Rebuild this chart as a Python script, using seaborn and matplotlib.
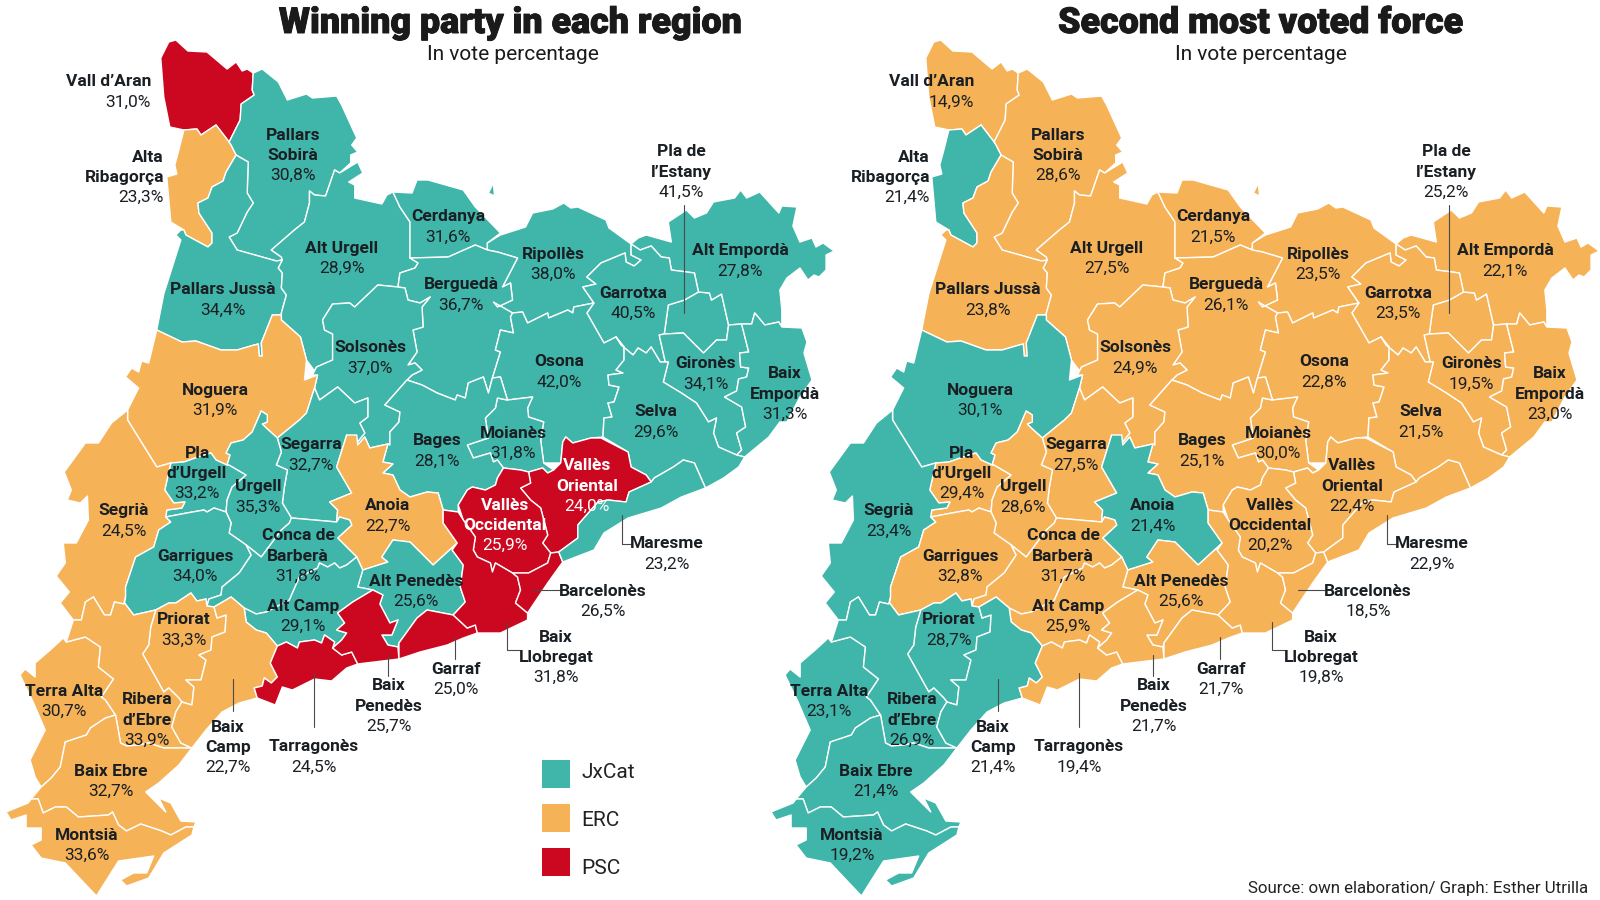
import numpy as np
import pandas as pd
import seaborn as sns
import matplotlib.pyplot as plt
import matplotlib.patheffects as pe

# Election results per comarca
regions = ["Vall d'Aran", "Alta Ribagorça", "Pallars Sobirà", "Pallars Jussà", "Alt Urgell", "Cerdanya",
           "Ripollès", "Berguedà", "Solsonès", "Pla de l'Estany", "Alt Empordà", "Garrotxa", "Gironès",
           "Baix Empordà", "Osona", "Selva", "Moianès", "Bages", "Noguera", "Pla d'Urgell", "Segarra",
           "Urgell", "Segrià", "Anoia", "Vallès Oriental", "Vallès Occidental", "Garrigues",
           "Conca de Barberà", "Alt Penedès", "Alt Camp", "Priorat", "Terra Alta", "Ribera d'Ebre",
           "Baix Ebre", "Montsià", "Baix Camp", "Tarragonès", "Baix Penedès", "Garraf", "Baix Llobregat",
           "Barcelonès", "Maresme"]
winner_party = ["PSC", "ERC", "JxCat", "JxCat", "JxCat", "JxCat",
                "JxCat", "JxCat", "JxCat", "JxCat", "JxCat", "JxCat", "JxCat",
                "JxCat", "JxCat", "JxCat", "JxCat", "JxCat", "ERC", "JxCat", "JxCat",
                "JxCat", "ERC", "ERC", "PSC", "PSC", "JxCat",
                "JxCat", "JxCat", "JxCat", "ERC", "ERC", "ERC",
                "ERC", "ERC", "ERC", "PSC", "PSC", "PSC", "PSC",
                "PSC", "JxCat"]
winner_pct = [31.0, 23.3, 30.8, 34.4, 28.9, 31.6,
              38.0, 36.7, 37.0, 41.5, 27.8, 40.5, 34.1,
              31.3, 42.0, 29.6, 31.8, 28.1, 31.9, 33.2, 32.7,
              35.3, 24.5, 22.7, 24.0, 25.9, 34.0,
              31.8, 25.6, 29.1, 33.3, 30.7, 33.9,
              32.7, 33.6, 22.7, 24.5, 25.7, 25.0, 31.8,
              26.5, 23.2]
second_party = ["ERC", "JxCat", "ERC", "ERC", "ERC", "ERC",
                "ERC", "ERC", "ERC", "ERC", "ERC", "ERC", "ERC",
                "ERC", "ERC", "ERC", "ERC", "ERC", "JxCat", "ERC", "ERC",
                "ERC", "JxCat", "JxCat", "ERC", "ERC", "ERC",
                "ERC", "ERC", "ERC", "JxCat", "JxCat", "JxCat",
                "JxCat", "JxCat", "JxCat", "ERC", "ERC", "ERC", "ERC",
                "ERC", "ERC"]
second_pct = [14.9, 21.4, 28.6, 23.8, 27.5, 21.5,
              23.5, 26.1, 24.9, 25.2, 22.1, 23.5, 19.5,
              23.0, 22.8, 21.5, 30.0, 25.1, 30.1, 29.4, 27.5,
              28.6, 23.4, 21.4, 22.4, 20.2, 32.8,
              31.7, 25.6, 25.9, 28.7, 23.1, 26.9,
              21.4, 19.2, 21.4, 19.4, 21.7, 21.7, 19.8,
              18.5, 22.9]
parties = ["JxCat", "ERC", "PSC"]
party_colors = {"JxCat": "#40b5a9", "ERC": "#f6b257", "PSC": "#cc0820"}

shapes = {
    "Vall d'Aran": [[(162,58),(170,42),(177,40),(189,51),(208,52),(228,69),(237,62),(243,71),(248,69),(254,73),(253,90),(255,95),(242,104),(241,120),(230,142),(217,125),(202,135),(198,129),(185,130),(171,127),(165,97)]],
    "Alta Ribagorça": [[(185,130),(198,129),(202,135),(217,125),(230,142),(232,145),(237,155),(227,172),(224,181),(213,187),(209,198),(199,203),(200,213),(213,233),(213,243),(209,247),(187,235),(185,230),(172,222),(168,177),(178,174),(176,165),(180,150)]],
    "Pallars Sobirà": [[(263,69),(279,82),(288,100),(307,94),(313,98),(337,96),(342,105),(357,138),(352,145),(358,152),(351,155),(351,163),(340,173),(335,170),(326,196),(315,195),(310,191),(310,203),(305,222),(295,230),(272,250),(282,257),(283,260),(277,261),(238,250),(230,237),(238,233),(248,212),(254,203),(248,193),(249,162),(242,158),(237,155),(232,145),(230,142),(241,120),(242,104),(255,95),(253,90),(254,73)]],
    "Pallars Jussà": [[(237,155),(242,158),(249,162),(248,193),(254,203),(248,212),(238,233),(230,237),(238,250),(277,261),(283,260),(279,268),(283,273),(282,288),(287,295),(282,313),(282,315),(273,315),(262,343),(263,356),(260,356),(259,344),(255,345),(238,350),(222,350),(197,341),(183,342),(158,330),(165,294),(182,240),(177,235),(182,230),(185,230),(187,235),(209,247),(213,243),(213,233),(200,213),(199,203),(209,198),(213,187),(224,181),(227,172)]],
    "Alt Urgell": [[(310,191),(315,195),(326,196),(335,170),(340,173),(358,162),(363,173),(349,182),(355,185),(355,198),(382,204),(387,195),(393,192),(400,207),(410,222),(410,258),(418,263),(415,268),(400,273),(398,287),(378,285),(355,307),(350,303),(333,304),(323,320),(325,330),(333,334),(333,360),(317,367),(313,375),(318,375),(307,360),(301,337),(282,320),(282,315),(282,313),(287,295),(282,288),(283,273),(279,268),(283,260),(282,257),(272,250),(295,230),(305,222),(310,203)]],
    "Cerdanya": [[(410,258),(410,222),(400,207),(393,192),(412,193),(417,180),(428,180),(463,190),(475,207),(500,233),(487,243),(487,250),(475,245),(448,257)],
                 [(493,183),(488,193),(500,199),(494,195)]],
    "Ripollès": [[(487,243),(500,235),(525,227),(532,213),(552,209),(563,203),(570,208),(577,207),(605,220),(608,228),(630,244),(630,255),(640,260),(633,266),(625,262),(624,253),(600,263),(586,277),(595,284),(582,287),(593,303),(573,307),(572,313),(567,310),(548,318),(547,313),(527,323),(522,312),(512,313),(493,302),(497,307),(512,300),(510,283),(502,287),(517,258),(497,252),(487,250)]],
    "Berguedà": [[(400,273),(415,268),(418,263),(410,258),(448,257),(475,245),(487,250),(497,252),(517,258),(502,287),(510,283),(512,300),(497,307),(493,302),(512,313),(510,317),(513,333),(500,330),(495,350),(500,352),(492,378),(488,393),(483,377),(468,383),(465,398),(457,395),(455,400),(437,393),(422,385),(407,380),(412,375),(422,370),(415,363),(408,365),(417,352),(413,330),(423,327),(422,307),(430,297),(420,303),(408,300),(405,288),(398,287)]],
    "Solsonès": [[(323,320),(333,304),(350,303),(355,307),(378,285),(398,287),(405,288),(408,300),(420,303),(430,297),(422,307),(423,327),(413,330),(417,352),(408,365),(415,363),(422,370),(412,375),(407,380),(385,405),(400,412),(399,422),(390,432),(390,445),(388,444),(370,448),(365,437),(358,445),(357,443),(365,433),(360,423),(368,417),(368,398),(355,403),(338,387),(320,400),(315,388),(318,375),(313,375),(317,367),(333,360),(333,334),(325,330)]],
    "Pla de l'Estany": [[(697,292),(708,293),(710,300),(720,294),(727,325),(725,340),(715,340),(702,353),(682,333),(663,334),(667,305),(683,300)]],
    "Alt Empordà": [[(637,238),(645,235),(670,242),(667,222),(685,210),(693,218),(705,213),(712,202),(733,198),(739,190),(745,198),(758,192),(777,213),(780,206),(795,207),(791,226),(798,242),(810,238),(814,247),(821,243),(832,251),(824,255),(824,270),(817,277),(812,275),(806,280),(798,268),(785,278),(778,290),(780,310),(780,327),(777,322),(763,325),(753,313),(750,324),(740,324),(727,325),(720,294),(710,300),(708,293),(697,292),(693,273),(670,270),(668,258),(660,257),(650,246),(639,250),(630,244)]],
    "Garrotxa": [[(630,244),(639,250),(650,246),(660,257),(668,258),(670,270),(693,273),(697,292),(683,300),(667,305),(663,334),(658,335),(664,362),(659,362),(650,347),(645,353),(637,348),(632,355),(620,345),(615,337),(603,343),(586,313),(593,303),(582,287),(595,284),(586,277),(600,263),(624,253),(625,262),(633,266),(640,260),(630,255)]],
    "Gironès": [[(658,335),(663,334),(682,333),(702,353),(715,340),(725,340),(727,325),(740,324),(747,352),(738,353),(739,367),(747,368),(745,377),(737,379),(735,391),(723,397),(740,407),(744,427),(735,433),(740,450),(735,455),(717,447),(712,433),(715,418),(707,422),(695,403),(680,393),(662,382),(667,362),(664,362)]],
    "Baix Empordà": [[(740,324),(750,324),(753,313),(763,325),(777,322),(780,327),(800,328),(805,342),(802,353),(810,380),(798,397),(785,422),(778,422),(767,437),(743,457),(735,455),(740,450),(735,433),(744,427),(740,407),(723,397),(735,391),(737,379),(745,377),(747,368),(739,367),(738,353),(747,352)]],
    "Osona": [[(512,313),(522,312),(527,323),(547,313),(548,318),(567,310),(572,313),(573,307),(593,303),(586,313),(603,343),(615,337),(623,347),(623,360),(615,370),(622,373),(607,375),(608,385),(618,387),(613,402),(607,403),(611,417),(603,418),(602,437),(590,438),(572,443),(565,437),(562,442),(560,463),(543,463),(540,440),(543,422),(528,417),(527,408),(532,397),(507,400),(500,377),(492,378),(500,352),(495,350),(500,330),(513,333),(510,317)]],
    "Selva": [[(602,437),(603,418),(611,417),(607,403),(613,402),(618,387),(608,385),(607,375),(622,373),(615,370),(623,360),(623,347),(615,337),(620,345),(632,355),(637,348),(645,353),(650,347),(659,362),(664,362),(667,362),(662,382),(680,393),(695,403),(707,422),(715,418),(712,433),(717,447),(735,455),(743,457),(737,467),(722,478),(704,488),(693,463),(682,460),(672,467),(653,478),(650,482),(645,475),(630,467),(627,452)]],
    "Moianès": [[(467,445),(488,438),(485,418),(495,408),(497,398),(507,400),(532,397),(527,408),(528,417),(543,422),(540,440),(543,463),(553,470),(547,473),(542,468),(528,472),(520,470),(503,468),(497,460),(493,462),(490,453),(473,458)]],
    "Bages": [[(407,380),(422,385),(437,393),(455,400),(457,395),(465,398),(468,383),(483,377),(488,393),(492,378),(500,377),(507,400),(497,398),(495,408),(485,418),(488,438),(467,445),(473,458),(490,453),(493,462),(497,460),(503,468),(497,478),(495,485),(485,490),(472,487),(467,490),(458,505),(458,512),(443,510),(438,493),(427,492),(410,497),(400,490),(393,475),(383,473),(393,464),(383,462),(388,444),(390,445),(390,432),(399,422),(400,412),(385,405)]],
    "Noguera": [[(158,330),(183,342),(197,341),(222,350),(238,350),(255,345),(259,344),(260,356),(263,356),(262,343),(273,315),(282,315),(282,320),(301,337),(307,360),(305,380),(318,375),(315,388),(307,413),(300,420),(278,438),(267,428),(263,424),(268,422),(268,415),(262,411),(253,432),(244,440),(232,443),(227,453),(231,455),(228,465),(217,460),(212,453),(205,455),(185,462),(172,463),(158,467),(129,420),(129,410),(140,388),(127,377),(133,368),(140,372),(143,361),(150,363)]],
    "Pla d'Urgell": [[(172,463),(185,462),(205,455),(212,453),(217,460),(228,465),(230,465),(247,475),(233,487),(228,500),(227,512),(215,508),(208,512),(205,510),(188,513),(167,517),(168,510),(183,508),(186,502),(175,503),(166,490)]],
    "Segarra": [[(315,388),(320,400),(338,387),(355,403),(368,398),(368,417),(360,423),(365,433),(357,443),(347,435),(337,467),(352,493),(330,502),(338,510),(337,522),(292,518),(283,503),(285,487),(288,470),(277,465),(282,452),(278,438),(300,420),(307,413)]],
    "Urgell": [[(253,432),(262,411),(268,415),(268,422),(263,424),(267,428),(278,438),(282,452),(277,465),(288,470),(285,487),(283,503),(292,518),(290,523),(282,530),(262,557),(247,545),(230,533),(232,523),(227,512),(228,500),(233,487),(247,475),(230,465),(228,465),(231,455),(227,453),(232,443),(244,440)]],
    "Segrià": [[(129,410),(113,423),(100,443),(87,443),(66,472),(73,490),(69,500),(82,503),(89,496),(90,520),(78,543),(65,543),(67,563),(58,576),(71,592),(62,603),(75,620),(83,620),(87,602),(95,597),(106,615),(112,615),(116,602),(125,604),(127,597),(127,587),(137,557),(155,547),(160,530),(172,522),(167,517),(168,510),(183,508),(186,502),(175,503),(166,490),(172,463),(158,467),(129,420)]],
    "Anoia": [[(347,435),(357,435),(358,445),(365,437),(370,448),(388,444),(383,462),(393,464),(383,473),(393,475),(400,490),(410,497),(427,492),(438,493),(443,510),(443,523),(457,543),(433,565),(410,542),(393,540),(382,557),(388,562),(363,570),(357,557),(338,538),(352,525),(350,520),(340,517),(337,522),(338,510),(330,502),(352,493),(337,467)]],
    "Vallès Oriental": [[(560,463),(562,442),(565,437),(572,443),(590,438),(600,438),(627,452),(630,467),(645,475),(650,482),(628,492),(625,502),(607,500),(597,502),(577,525),(577,538),(558,552),(550,553),(542,543),(547,535),(540,508),(530,500),(520,488),(530,483),(528,472),(542,468),(547,473),(553,470)]],
    "Vallès Occidental": [[(503,468),(520,470),(528,472),(530,483),(520,488),(530,500),(540,508),(547,535),(542,543),(550,553),(547,563),(528,573),(512,573),(495,563),(492,572),(490,563),(477,557),(473,550),(475,537),(463,520),(458,505),(467,490),(472,487),(485,490),(495,485),(497,478)]],
    "Garrigues": [[(167,517),(188,513),(205,510),(208,512),(215,508),(227,512),(232,523),(230,533),(247,545),(252,555),(240,573),(223,587),(222,595),(210,599),(208,606),(207,599),(198,601),(192,593),(177,603),(170,603),(157,610),(135,615),(126,603),(127,597),(127,587),(137,557),(155,547),(160,530),(172,522)]],
    "Conca de Barberà": [[(262,557),(282,530),(290,523),(292,518),(337,522),(340,517),(350,520),(352,525),(338,538),(357,557),(347,565),(340,568),(335,563),(328,567),(320,563),(318,568),(300,577),(290,600),(267,612),(257,614),(245,608),(232,597),(215,607),(208,606),(210,599),(222,595),(223,587),(240,573),(252,555),(247,545)]],
    "Alt Penedès": [[(363,570),(388,562),(382,557),(393,540),(410,542),(433,565),(457,543),(452,550),(463,565),(460,587),(465,602),(453,615),(427,610),(417,618),(399,643),(398,647),(388,645),(382,635),(392,635),(398,620),(390,623),(380,604),(383,595),(373,590),(358,587)]],
    "Alt Camp": [[(245,608),(257,614),(267,612),(290,600),(300,577),(318,568),(320,563),(328,567),(335,563),(340,568),(347,565),(357,557),(363,570),(358,587),(373,590),(353,602),(338,613),(345,623),(337,630),(347,633),(342,640),(333,648),(335,642),(325,635),(322,643),(315,640),(300,642),(298,648),(287,642),(278,646),(267,633),(257,630),(247,622)]],
    "Priorat": [[(157,610),(170,603),(177,603),(192,593),(198,601),(207,599),(208,606),(215,607),(218,618),(227,615),(226,632),(213,637),(212,650),(200,655),(207,660),(202,680),(187,680),(195,687),(193,705),(183,702),(180,698),(170,688),(165,692),(144,654),(150,645),(152,627)]],
    "Terra Alta": [[(68,642),(87,637),(102,647),(100,667),(115,679),(103,697),(107,700),(117,715),(107,718),(92,728),(88,735),(67,742),(62,767),(53,778),(43,787),(37,777),(32,760),(47,730),(35,702),(22,675),(27,669),(37,677),(37,663),(52,650),(65,638)]],
    "Ribera d'Ebre": [[(75,620),(83,620),(87,602),(95,597),(106,615),(112,615),(116,602),(125,604),(126,603),(135,615),(157,610),(152,627),(150,645),(144,654),(165,692),(170,688),(180,698),(183,702),(177,712),(173,727),(182,743),(193,748),(165,748),(150,743),(140,745),(128,746),(122,743),(117,715),(107,700),(103,697),(115,679),(100,667),(102,647),(87,637),(68,642)]],
    "Baix Ebre": [[(117,715),(122,743),(128,746),(140,745),(150,743),(165,748),(193,748),(180,765),(160,783),(147,792),(167,812),(160,798),(172,803),(182,821),(197,822),(195,827),(187,827),(172,835),(163,831),(142,824),(128,831),(120,825),(114,812),(110,815),(80,817),(68,807),(57,807),(45,813),(40,799),(33,799),(43,787),(53,778),(62,767),(67,742),(88,735),(92,728),(107,718)]],
    "Montsià": [[(8,812),(30,803),(33,799),(40,799),(45,813),(57,807),(68,807),(80,817),(110,815),(114,812),(120,825),(128,831),(142,824),(163,831),(172,835),(187,827),(195,827),(193,835),(165,853),(150,878),(128,886),(122,880),(135,873),(148,873),(155,856),(120,861),(98,896),(67,863),(43,858),(33,845),(43,840),(43,828),(28,828),(28,815),(13,820)]],
    "Baix Camp": [[(215,607),(232,597),(245,608),(247,622),(257,630),(267,633),(278,646),(271,663),(278,677),(272,683),(265,678),(263,686),(255,688),(258,698),(240,703),(223,712),(207,730),(193,748),(182,743),(173,727),(177,712),(183,702),(193,705),(195,687),(187,680),(202,680),(207,660),(200,655),(212,650),(213,637),(226,632),(227,615),(218,618)]],
    "Tarragonès": [[(278,646),(287,642),(298,648),(300,642),(315,640),(322,643),(325,635),(335,642),(333,648),(342,655),(352,652),(358,664),(347,668),(332,681),(315,679),(293,690),(283,687),(276,705),(258,698),(255,688),(263,686),(265,678),(272,683),(278,677),(271,663)]],
    "Baix Penedès": [[(373,590),(383,595),(380,604),(390,623),(398,620),(392,635),(382,635),(388,645),(398,647),(399,659),(358,664),(352,652),(342,655),(333,648),(342,640),(347,633),(337,630),(345,623),(338,613),(353,602)]],
    "Garraf": [[(399,659),(399,643),(417,618),(427,610),(453,615),(467,628),(475,625),(477,633),(463,638),(447,645),(420,652)]],
    "Baix Llobregat": [[(443,510),(458,512),(463,520),(475,537),(473,550),(477,557),(490,563),(492,572),(495,563),(512,573),(517,577),(520,590),(515,603),(527,613),(527,620),(500,633),(477,633),(475,625),(467,628),(453,615),(465,602),(460,587),(463,565),(452,550),(457,543),(443,523)]],
    "Barcelonès": [[(512,573),(528,573),(547,563),(550,553),(558,552),(562,562),(547,583),(527,613),(515,603),(520,590),(517,577)]],
    "Maresme": [[(558,552),(577,538),(577,525),(597,502),(607,500),(625,502),(628,492),(650,482),(653,478),(672,467),(682,460),(693,463),(704,488),(680,497),(660,508),(627,518),(603,533),(593,550),(562,562)]],
}

# Label anchor of the first text line (x, y, ha), left map pixels
label_pos = {
    "Vall d'Aran": (151,81,"right"), "Alta Ribagorça": (164,156,"right"), "Pallars Sobirà": (293,134,"center"),
    "Pallars Jussà": (223,289,"center"), "Alt Urgell": (342,247,"center"), "Cerdanya": (448,216,"center"),
    "Ripollès": (553,253,"center"), "Berguedà": (461,284,"center"), "Solsonès": (370,347,"center"),
    "Pla de l'Estany": (681,151,"center"), "Alt Empordà": (740,250,"center"), "Garrotxa": (633,292,"center"),
    "Gironès": (706,363,"center"), "Baix Empordà": (785,373,"center"), "Osona": (559,361,"center"),
    "Selva": (656,411,"center"), "Moianès": (513,432,"center"), "Bages": (437,440,"center"),
    "Noguera": (215,389,"center"), "Pla d'Urgell": (197,452,"center"), "Segarra": (311,444,"center"),
    "Urgell": (258,486,"center"), "Segrià": (124,510,"center"), "Anoia": (388,505,"center"),
    "Vallès Oriental": (587,465,"center"), "Vallès Occidental": (505,504,"center"), "Garrigues": (195,555,"center"),
    "Conca de Barberà": (298,535,"center"), "Alt Penedès": (416,580,"center"), "Alt Camp": (303,605,"center"),
    "Priorat": (184,619,"center"), "Terra Alta": (64,690,"center"), "Ribera d'Ebre": (147,699,"center"),
    "Baix Ebre": (111,770,"center"), "Montsià": (87,834,"center"), "Baix Camp": (228,726,"center"),
    "Tarragonès": (314,746,"center"), "Baix Penedès": (389,685,"center"), "Garraf": (456,668,"center"),
    "Baix Llobregat": (556,636,"center"), "Barcelonès": (603,590,"center"), "Maresme": (667,543,"center"),
}
# Regions whose name breaks over two lines
line_breaks = {
    "Alta Ribagorça": "Alta\nRibagorça", "Pallars Sobirà": "Pallars\nSobirà", "Pla de l'Estany": "Pla de\nl’Estany",
    "Baix Empordà": "Baix\nEmpordà", "Pla d'Urgell": "Pla\nd’Urgell", "Vallès Oriental": "Vallès\nOriental",
    "Vallès Occidental": "Vallès\nOccidental", "Conca de Barberà": "Conca de\nBarberà", "Ribera d'Ebre": "Ribera\nd’Ebre",
    "Baix Camp": "Baix\nCamp", "Baix Penedès": "Baix\nPenedès", "Baix Llobregat": "Baix\nLlobregat",
}
# Label shifts on the second map
right_map_shift = {"Vall d'Aran": (58, 0), "Alta Ribagorça": (1, 0)}
white_labels = ["Vallès Oriental", "Vallès Occidental"]

leaders = [[(684,205),(684,313)], [(233,679),(233,711)], [(314,673),(314,727)], [(388,655),(388,676)],
           [(455,637),(455,659)], [(507,622),(507,650),(520,650)], [(533,590),(560,590)], [(622,515),(622,544),(632,544)]]

titles = ["Winning party in each region", "Second most voted force"]
subtitle = "In vote percentage"
source = "Source: own elaboration/ Graph: Esther Utrilla"
legend_x = [556, 556, 556]
legend_y = [774, 818, 862]

MAP_OFFSET = 765
MAP_STRETCH = 1.005
LINE_H = 20.4
DARK = "#1a1f24"

sns.set_theme(style="white")
plt.rcParams["font.family"] = ["Roboto", "DejaVu Sans"]

fig = plt.figure(figsize=(16, 9), dpi=100, facecolor="white")
ax = fig.add_axes([0, 0, 1, 1])
ax.set_xlim(0, 1600)
ax.set_ylim(900, 0)
ax.axis("off")


def pct_text(v):
    return f"{v:.1f}".replace(".", ",") + "%"


def draw_map(parties_now, values, dx, second=False):
    for name, party in zip(regions, parties_now):
        for ring in shapes[name]:
            pts = np.array(ring, dtype=float)
            xs = 410 + (pts[:, 0] - 410) * MAP_STRETCH
            ax.fill(xs + dx, pts[:, 1], facecolor=party_colors[party], edgecolor="white",
                    linewidth=1.0, joinstyle="round", zorder=2)
    for path in leaders:
        pts = np.array(path, dtype=float)
        ax.plot(pts[:, 0] + dx, pts[:, 1], color="#4a4a4a", lw=0.8, zorder=3)
    for name, value in zip(regions, values):
        x, y, ha = label_pos[name]
        sx, sy = right_map_shift.get(name, (0, 0)) if second else (0, 0)
        color = "white" if (name in white_labels and not second) else DARK
        lines = line_breaks.get(name, name.replace("'", "’")).split("\n")
        for i, line in enumerate(lines):
            ax.text(x + dx + sx, y + sy + 1 + i * LINE_H, line, ha=ha, va="center", fontsize=12.5,
                    fontweight="bold", color=color, zorder=4)
        ax.text(x + dx + sx, y + sy + 1 + len(lines) * LINE_H, pct_text(value), ha=ha, va="center", fontsize=12.5,
                fontweight="normal", color=color, zorder=4)


draw_map(winner_party, winner_pct, 0)
draw_map(second_party, second_pct, MAP_OFFSET, second=True)

for title, cx in zip(titles, [510, 1261]):
    ax.text(cx, 23, title, ha="center", va="center", fontsize=25.8, fontweight="black", color="#1a1a1a",
            path_effects=[pe.withStroke(linewidth=0.7, foreground="#1a1a1a")])
    ax.text(cx + 3 if cx == 510 else cx, 55, subtitle, ha="center", va="center", fontsize=15, fontweight="normal", color="#1a1a1a")

# Legend squares through seaborn
legend_df = pd.DataFrame({"x": legend_x, "y": legend_y, "party": parties})
sns.scatterplot(data=legend_df, x="x", y="y", hue="party", palette=party_colors, marker="s", s=430,
                linewidth=0, legend=False, ax=ax, zorder=5)
ax.set_xlim(0, 1600)
ax.set_ylim(900, 0)
ax.axis("off")
for party, ty in zip(parties, [772, 820, 869]):
    ax.text(581, ty, party, ha="left", va="center", fontsize=15, color="#222222", fontweight="normal")

ax.text(1588, 889, source, ha="right", va="center", fontsize=12.2, fontweight="normal", color="#222222")

fig.savefig("out.png", dpi=100, facecolor="white")
